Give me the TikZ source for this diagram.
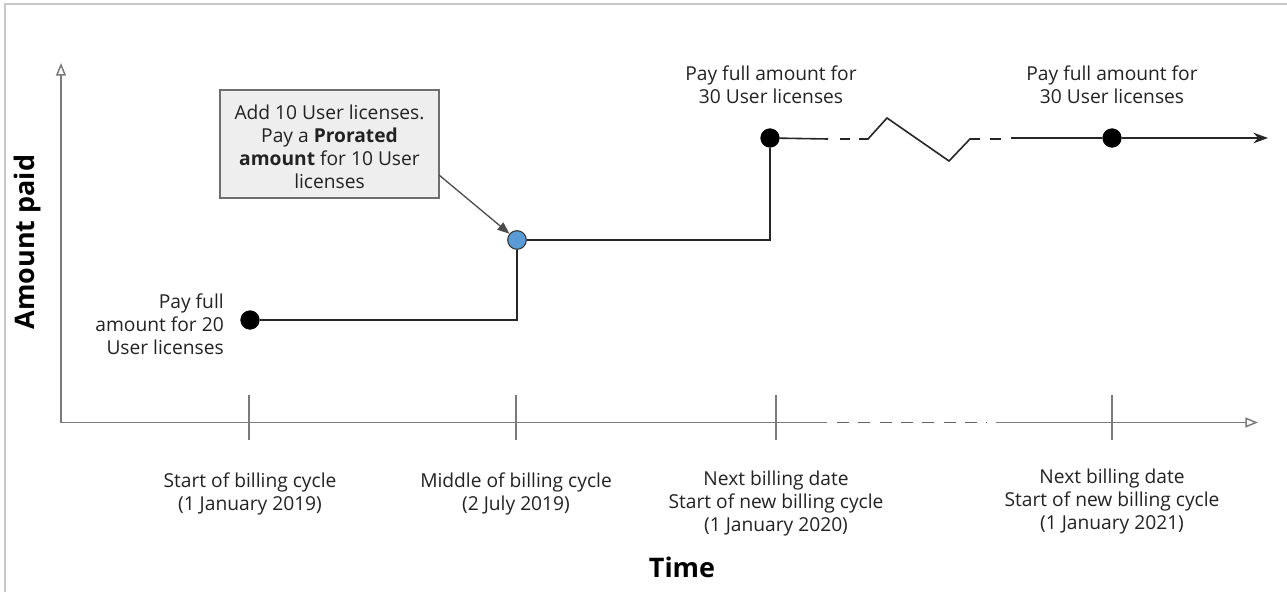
\documentclass[tikz,border=0pt]{standalone}
\usepackage{fontspec}
\setmainfont{Open Sans}
\usetikzlibrary{arrows.meta}
\definecolor{txt}{HTML}{222222}
\definecolor{axisgray}{HTML}{7A7A7A}
\definecolor{framegray}{HTML}{C8C8C8}
\definecolor{boxfill}{HTML}{EEEEEE}
\definecolor{boxdraw}{HTML}{6E6E6E}
\definecolor{bluedot}{HTML}{5B9BD5}
\begin{document}
\begin{tikzpicture}[x=0.75pt,y=-0.75pt,
  lbl/.style={text=txt,font=\fontsize{14.4}{17.25}\selectfont,inner sep=0pt,align=center},
  biglbl/.style={text=black,font=\fontsize{20.2}{22}\selectfont\bfseries,inner sep=0pt},
  axisline/.style={draw=axisgray,line width=1.1pt},
  tick/.style={draw=axisgray,line width=1.1pt},
  dataline/.style={draw=black!85,line width=1.2pt},
  dot/.style={circle,fill=black,draw=black,minimum size=14pt,inner sep=0pt},
  bdot/.style={circle,fill=bluedot,draw=black!80,line width=0.8pt,minimum size=14pt,inner sep=0pt},
  callout/.style={draw=boxdraw,fill=boxfill,line width=1pt,minimum width=164.25pt,minimum height=81pt,inner sep=0pt},
  openarrow/.style={-{Triangle[open,length=9.5pt,width=7.5pt]}},
]
\useasboundingbox (0,0) rectangle (1287,592);
% frame
\coordinate (f1) at (5,592);
\coordinate (f2) at (5,4);
\coordinate (f3) at (1287,4);
\draw[framegray,line width=1pt] (f1) -- (f2) -- (f3);

% axes
\coordinate (o) at (61,422.5);
\coordinate (ytop) at (61,63);
\coordinate (xs1) at (827,422.5);
\coordinate (xd1) at (837,422.5);
\coordinate (xd2) at (987,422.5);
\coordinate (xs2) at (996,422.5);
\coordinate (xend) at (1258,422.5);
\draw[axisline,openarrow] (o) -- (ytop);
\draw[axisline] (o) -- (xs1);
\draw[axisline,draw=black!62,dash pattern=on 9pt off 7pt] (xd1) -- (xd2);
\draw[axisline,openarrow] (xs2) -- (xend);

% ticks
\foreach \n/\x in {t1/249,t2/516,t3/776,t4/1112}{
  \coordinate (\n a) at (\x,395);
  \coordinate (\n b) at (\x,440);
  \draw[tick] (\n a) -- (\n b);
}

% axis labels
\node[biglbl,rotate=90] (ylab) at (28,242) {Amount paid};
\node[biglbl] (xlab) at (682,567) {Time};

% data points
\node[dot] (p1) at (250,320) {};
\node[bdot] (p2) at (517,240) {};
\node[dot] (p3) at (770,138) {};
\node[dot] (p4) at (1112,138) {};
\coordinate (c1) at (517,320);
\coordinate (c2) at (770,240);
\draw[dataline] (p1) -- (c1) -- (p2);
\draw[dataline] (p2) -- (c2) -- (p3);

% break with zigzag
\coordinate (s1) at (828,139);
\coordinate (d1a) at (840,139);
\coordinate (d1b) at (850,139);
\coordinate (z0) at (859,139);
\coordinate (z1) at (868,139);
\coordinate (z2) at (887,118);
\coordinate (z3) at (949,161);
\coordinate (z4) at (970,139);
\coordinate (z5) at (980,139);
\coordinate (d2a) at (990,139);
\coordinate (d2b) at (1001,139);
\coordinate (s2) at (1011,138);
\coordinate (aend) at (1268,138);
\draw[dataline] (p3) -- (s1);
\draw[dataline] (d1a) -- (d1b);
\draw[dataline,line join=miter] (z0) -- (z1) -- (z2) -- (z3) -- (z4) -- (z5);
\draw[dataline] (d2a) -- (d2b);
\draw[dataline] (s2) -- (p4);
\draw[dataline,-{Stealth[length=11pt,width=8pt]}] (p4) -- (aend);

% callout
\node[callout] (box) at (329.5,144) {};
\node[lbl] (boxtxt) at (329.5,147) {Add 10 User licenses.\\Pay a \textbf{Prorated}\\\textbf{amount} for 10 User\\licenses};
\coordinate (bstart) at (439,175);
\draw[draw=black!70,line width=1pt,-{Triangle[length=9pt,width=7pt]},fill=black!70] (bstart) -- (p2);

% labels
\node[lbl,anchor=east,align=right] (l1) at (224,324) {Pay full\\amount for 20\\User licenses};
\node[lbl] (l2) at (771,85) {Pay full amount for\\30 User licenses};
\node[lbl] (l3) at (1112,85) {Pay full amount for\\30 User licenses};
\node[lbl] (b1) at (250,494) {Start of billing cycle\\(1 January 2019)};
\node[lbl] (b2) at (516,494) {Middle of billing cycle\\(2 July 2019)};
\node[lbl] (b3) at (776,503.5) {Next billing date\\Start of new billing cycle\\(1 January 2020)};
\node[lbl] (b4) at (1112,501.5) {Next billing date\\Start of new billing cycle\\(1 January 2021)};
\end{tikzpicture}
\end{document}
